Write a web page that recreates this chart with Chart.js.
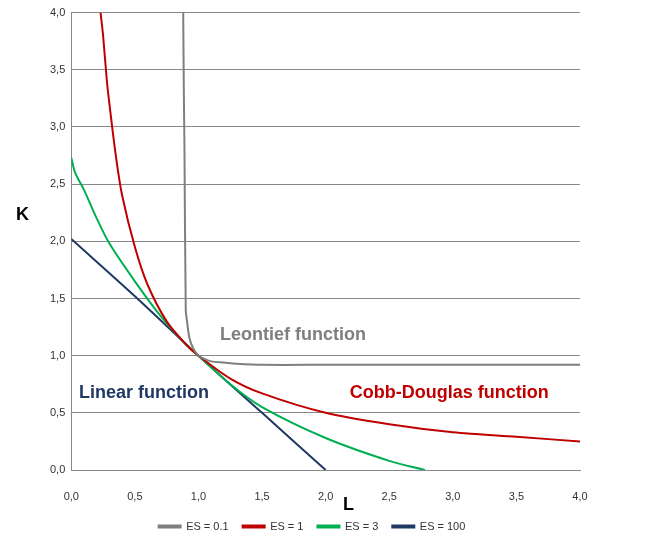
<!DOCTYPE html><html><head><script src="https://cdn.jsdelivr.net/npm/chart.js@4"></script>
<style>body{margin:0;background:#fff}#w{width:654px;height:546px}</style></head><body><div id="w"><canvas id="c"></canvas></div>
<script>
const es01L=[0.88,0.885,0.89,0.9,0.91,0.93,0.96,1.0,1.05,1.1,1.2,1.3,1.5,2,3,4];
const es01K=[4,3.3,2.8,1.4,1.3,1.15,1.06,1.0,0.97,0.95,0.94,0.93,0.92,0.92,0.92,0.92];
const es1L=[0.23,0.25,0.28,0.3,0.35,0.4,0.5,0.6,0.75,0.9,1,1.25,1.5,2,2.5,3,3.5,4];
const es1K=[4,3.8,3.4,3.2,2.75,2.4,1.95,1.62,1.3,1.1,1,0.8,0.67,0.5,0.4,0.33,0.29,0.25];
const es3L=[0,0.03,0.1,0.2,0.3,0.5,0.7,0.9,1,1.25,1.5,2,2.5,2.78];
const es3K=[2.73,2.6,2.45,2.2,1.98,1.65,1.35,1.1,1,0.75,0.55,0.28,0.08,0];
const es100L=[0,0.5,1,1.5,2];
const es100K=[2.02,1.52,1.0,0.5,0.0];
const yTicks=['0,0','0,5','1,0','1,5','2,0','2,5','3,0','3,5','4,0'];
const mk=(L,K)=>L.map((x,i)=>({x:x,y:K[i]}));
const ds=(label,L,K,c)=>({label,data:mk(L,K),borderColor:c,backgroundColor:c,showLine:true,pointRadius:0,borderWidth:2,tension:0.3});
const labels={id:'lab',afterDatasetsDraw(ch){const g=ch.ctx,x=ch.scales.x,y=ch.scales.y;g.save();g.font='bold 18px "Liberation Sans",Arial';g.textBaseline='middle';
g.fillStyle='#7f7f7f';g.fillText('Leontief function',x.getPixelForValue(1.17),y.getPixelForValue(1.18));
g.fillStyle='#1f3864';g.fillText('Linear function',x.getPixelForValue(0.06),y.getPixelForValue(0.67));
g.fillStyle='#c00000';g.fillText('Cobb-Douglas function',x.getPixelForValue(2.19),y.getPixelForValue(0.67));
g.fillStyle='#000';g.font='bold 18px "Liberation Sans",Arial';g.fillText('K',16,215);g.fillText('L',343,505);g.restore();}};
new Chart(document.getElementById('c'),{type:'scatter',data:{datasets:[ds('ES = 0.1',es01L,es01K,'#7f7f7f'),ds('ES = 1',es1L,es1K,'#c00000'),ds('ES = 3',es3L,es3K,'#00b050'),ds('ES = 100',es100L,es100K,'#1f3864')]},
options:{responsive:true,maintainAspectRatio:false,animation:false,layout:{padding:{left:44,right:74,top:4,bottom:4}},
plugins:{legend:{position:'bottom',labels:{boxWidth:22,boxHeight:2,font:{size:11,family:'"Liberation Sans",Arial'},color:'#333',padding:14},},tooltip:{enabled:false}},
scales:{x:{type:'linear',min:0,max:4,ticks:{stepSize:0.5,color:'#333',font:{size:11},callback:v=>v.toFixed(1).replace('.',','),padding:12},grid:{display:false,drawTicks:true},border:{color:'#888'},afterFit(a){a.height=37}},
y:{min:0,max:4,ticks:{stepSize:0.5,color:'#333',font:{size:11},callback:(v)=>yTicks[Math.round(v*2)],padding:6},grid:{color:'#888',drawTicks:false},border:{color:'#888'}}}},plugins:[labels]});
</script></body></html>
